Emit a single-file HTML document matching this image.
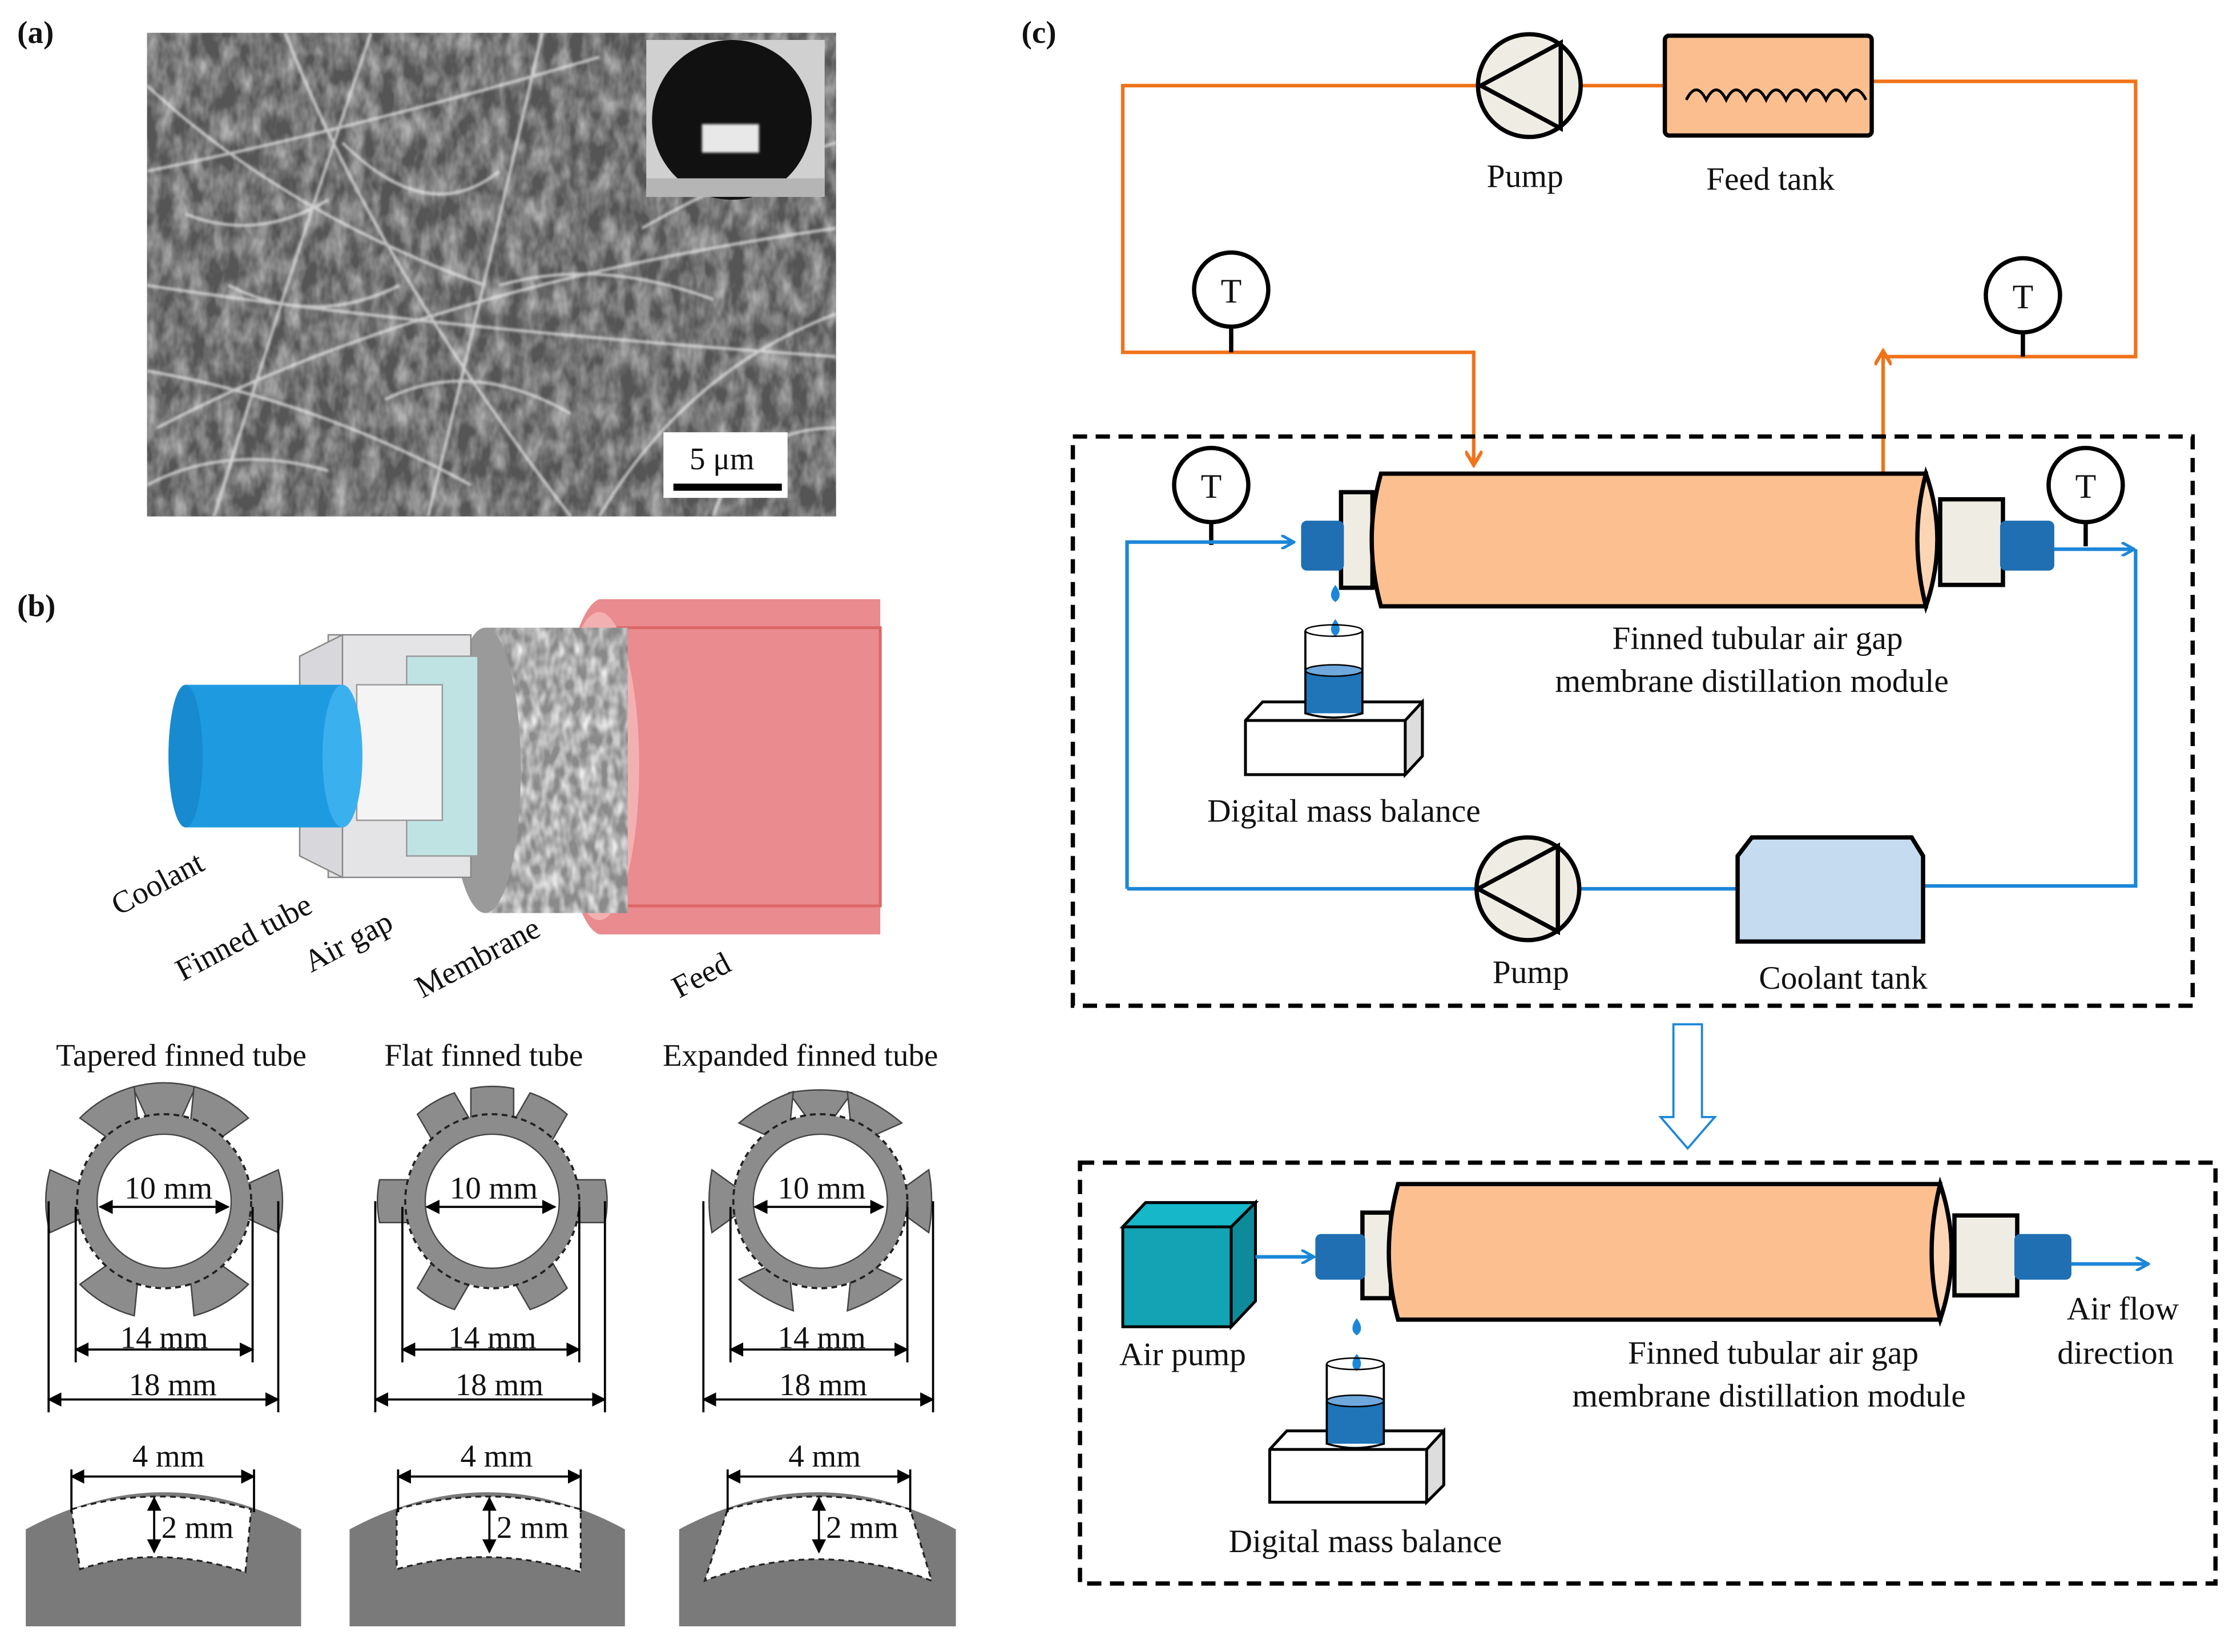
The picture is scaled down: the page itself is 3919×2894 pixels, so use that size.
<!DOCTYPE html>
<html><head><meta charset="utf-8"><style>
html,body{margin:0;padding:0;background:#fff}
svg{display:block}
text{font-family:"Liberation Serif",serif;fill:#111}
</style></head><body>
<svg width="3919" height="2894" viewBox="0 0 1568 1158" xmlns="http://www.w3.org/2000/svg">
<defs>
<filter id="sem" x="0" y="0" width="100%" height="100%">
<feTurbulence type="fractalNoise" baseFrequency="0.09 0.05" numOctaves="3" seed="4"/>
<feColorMatrix type="matrix" values="0 0 0 0 1  0 0 0 0 1  0 0 0 0 1  1.8 0 0 0 -0.55"/>
<feComposite in2="SourceGraphic" operator="in"/>
</filter>
<filter id="mem" x="0" y="0" width="100%" height="100%">
<feTurbulence type="fractalNoise" baseFrequency="0.15 0.08" numOctaves="2" seed="7"/>
<feColorMatrix type="matrix" values="0 0 0 0 1  0 0 0 0 1  0 0 0 0 1  1.6 0 0 0 -0.5"/>
<feComposite in2="SourceGraphic" operator="in"/>
</filter>
<filter id="bl"><feGaussianBlur stdDeviation="0.8"/></filter>
<marker id="ab" markerWidth="10" markerHeight="10" refX="8" refY="5" orient="auto" markerUnits="userSpaceOnUse"><path d="M0,0 L9,5 L0,10" fill="none" stroke="#1b87d9" stroke-width="2"/></marker>
<marker id="ao" markerWidth="12" markerHeight="12" refX="9" refY="6" orient="auto" markerUnits="userSpaceOnUse"><path d="M0,0 L10,6 L0,12" fill="none" stroke="#f0731a" stroke-width="2.5"/></marker>
<marker id="ak" markerWidth="10" markerHeight="10" refX="9" refY="5" orient="auto" markerUnits="userSpaceOnUse"><path d="M0,0 L10,5 L0,10 Z" fill="#000"/></marker>
<marker id="aks" markerWidth="10" markerHeight="10" refX="1" refY="5" orient="auto" markerUnits="userSpaceOnUse"><path d="M10,0 L0,5 L10,10 Z" fill="#000"/></marker>
</defs>

<text x="12" y="30" font-size="22" font-weight="bold">(a)</text>
<text x="12" y="432" font-size="22" font-weight="bold">(b)</text>
<text x="716" y="30" font-size="22" font-weight="bold">(c)</text>

<!-- (a) SEM -->
<rect x="103" y="23" width="483" height="339" fill="#555"/>
<rect x="103" y="23" width="483" height="339" fill="#fff" filter="url(#sem)" opacity="0.55"/>
<g stroke="#eee" stroke-width="2" opacity="0.7" filter="url(#bl)" fill="none">
<path d="M103,120 Q250,90 420,40"/><path d="M110,300 Q300,200 586,160"/><path d="M150,362 Q200,200 260,23"/>
<path d="M300,362 Q330,240 380,23"/><path d="M103,200 Q300,230 586,250"/><path d="M200,23 Q260,180 400,362"/>
<path d="M103,60 Q200,150 340,200"/><path d="M420,362 Q480,260 586,220"/><path d="M103,260 Q220,280 330,340"/>
<path d="M240,100 Q300,160 350,120"/><path d="M350,200 Q420,180 500,210"/><path d="M130,150 Q180,170 230,140"/>
<path d="M450,160 Q520,120 586,100"/><path d="M270,280 Q330,250 400,290"/><path d="M160,200 Q220,230 280,200"/>
<path d="M500,362 Q520,300 586,300"/><path d="M103,340 Q160,310 230,330"/>
</g>
<rect x="453" y="28" width="125" height="110" fill="#d0d0d0"/>
<circle cx="513" cy="84" r="56" fill="#111"/>
<rect x="453" y="125" width="125" height="13" fill="#b5b5b5"/>
<rect x="492" y="87" width="40" height="20" fill="#e8e8e8" filter="url(#bl)"/>
<rect x="465" y="303" width="87" height="46" fill="#fff"/>
<text x="506" y="329" font-size="22" text-anchor="middle">5 μm</text>
<rect x="472" y="339" width="76" height="5" fill="#000"/>

<!-- (b) 3D tube -->
<path d="M420,420 L617,420 L617,655 L420,655 A30,118 0 0 1 420,420 Z" fill="#e98b8f"/>
<path d="M420,440 L617,440 L617,635 L420,635" fill="none" stroke="#d66" stroke-width="2"/>
<ellipse cx="420" cy="537" rx="28" ry="108" fill="#f3b0b0"/>
<path d="M340,440 L440,440 L440,640 L340,640 Z" fill="#8a8a8a"/>
<path d="M340,440 L440,440 L440,640 L340,640 Z" fill="#fff" filter="url(#mem)"/>
<ellipse cx="340" cy="540" rx="25" ry="100" fill="#9a9a9a"/>
<path d="M230,445 L330,445 L330,615 L230,615 Z" fill="#e4e4e6" stroke="#888"/>
<rect x="285" y="460" width="50" height="140" fill="#bfe3e3" stroke="#999"/>
<path d="M210,460 L240,445 L240,615 L210,600 Z" fill="#d8d8dc" stroke="#888"/>
<rect x="250" y="480" width="60" height="95" fill="#f4f4f4" stroke="#999"/>
<path d="M130,480 L240,480 L240,580 L130,580 Z" fill="#1e9be0"/>
<ellipse cx="130" cy="530" rx="12" ry="50" fill="#178ad0"/>
<ellipse cx="240" cy="530" rx="14" ry="50" fill="#3bb0ee"/>
<g font-size="22">
<text transform="translate(83,642) rotate(-28)">Coolant</text>
<text transform="translate(128,688) rotate(-28)">Finned tube</text>
<text transform="translate(218,682) rotate(-28)">Air gap</text>
<text transform="translate(296,700) rotate(-28)">Membrane</text>
<text transform="translate(476,700) rotate(-28)">Feed</text>
</g>

<g font-size="22" text-anchor="middle">
<text x="127" y="747">Tapered finned tube</text>
<text x="339" y="747">Flat finned tube</text>
<text x="561" y="747">Expanded finned tube</text>
</g>
<g fill="#8c8c8c" stroke="#444" stroke-width="1">
<g transform="translate(115,842)">
<g id="tf"><path d="M-12,-58 L-22,-80 Q0,-86 22,-80 L12,-58 Z"/></g>
<use href="#tf" transform="rotate(30)"/><use href="#tf" transform="rotate(-30)"/>
<use href="#tf" transform="rotate(90)"/><use href="#tf" transform="rotate(-90)"/>
<use href="#tf" transform="rotate(150)"/><use href="#tf" transform="rotate(-150)"/>
</g>
<g transform="translate(345,842)">
<g id="ff"><path d="M-15,-58 L-15,-79 Q0,-82 15,-79 L15,-58 Z"/></g>
<use href="#ff" transform="rotate(30)"/><use href="#ff" transform="rotate(-30)"/>
<use href="#ff" transform="rotate(90)"/><use href="#ff" transform="rotate(-90)"/>
<use href="#ff" transform="rotate(150)"/><use href="#ff" transform="rotate(-150)"/>
</g>
<g transform="translate(575,842)">
<g id="ef"><path d="M-9,-58 L-22,-76 Q0,-80 22,-76 L9,-58 Z"/></g>
<use href="#ef" transform="rotate(30)"/><use href="#ef" transform="rotate(-30)"/>
<use href="#ef" transform="rotate(90)"/><use href="#ef" transform="rotate(-90)"/>
<use href="#ef" transform="rotate(150)"/><use href="#ef" transform="rotate(-150)"/>
</g>
</g>
<g>
<circle cx="115" cy="842" r="54" fill="none" stroke="#8c8c8c" stroke-width="13"/>
<circle cx="345" cy="842" r="54" fill="none" stroke="#8c8c8c" stroke-width="13"/>
<circle cx="575" cy="842" r="54" fill="none" stroke="#8c8c8c" stroke-width="13"/>
<g fill="none" stroke="#222" stroke-width="1.5" stroke-dasharray="4,3">
<circle cx="115" cy="842" r="61"/><circle cx="345" cy="842" r="61"/><circle cx="575" cy="842" r="61"/>
</g>
<g fill="none" stroke="#444" stroke-width="1">
<circle cx="115" cy="842" r="47"/><circle cx="345" cy="842" r="47"/><circle cx="575" cy="842" r="47"/>
</g>
</g>
<g stroke="#000" stroke-width="1.5">
<g id="dims">
<line x1="70" y1="846" x2="160" y2="846" marker-end="url(#ak)" marker-start="url(#aks)"/>
<line x1="53" y1="846" x2="53" y2="955"/><line x1="177" y1="846" x2="177" y2="955"/>
<line x1="53" y1="946" x2="177" y2="946" marker-end="url(#ak)" marker-start="url(#aks)"/>
<line x1="34" y1="842" x2="34" y2="990"/><line x1="195" y1="842" x2="195" y2="990"/>
<line x1="34" y1="981" x2="195" y2="981" marker-end="url(#ak)" marker-start="url(#aks)"/>
</g>
<use href="#dims" transform="translate(229,0)"/>
<use href="#dims" transform="translate(459,0)"/>
</g>
<g font-size="22" text-anchor="middle">
<text x="118" y="840">10 mm</text><text x="346" y="840">10 mm</text><text x="576" y="840">10 mm</text>
<text x="115" y="945">14 mm</text><text x="345" y="945">14 mm</text><text x="576" y="945">14 mm</text>
<text x="121" y="978">18 mm</text><text x="350" y="978">18 mm</text><text x="577" y="978">18 mm</text>
<text x="118" y="1028">4 mm</text><text x="348" y="1028">4 mm</text><text x="578" y="1028">4 mm</text>
</g>
<g>
<path d="M18,1072 Q115,1020 211,1072 L211,1140 L18,1140 Z" fill="#7a7a7a"/>
<path d="M50,1058 Q110,1040 176,1058 L172,1102 Q110,1082 56,1100 Z" fill="#fff" stroke="#222" stroke-width="1.3" stroke-dasharray="4,3"/>
<path d="M245,1072 Q342,1020 438,1072 L438,1140 L245,1140 Z" fill="#7a7a7a"/>
<path d="M278,1058 Q342,1040 407,1058 L407,1102 Q342,1082 278,1100 Z" fill="#fff" stroke="#222" stroke-width="1.3" stroke-dasharray="4,3"/>
<path d="M476,1072 Q573,1020 670,1072 L670,1140 L476,1140 Z" fill="#7a7a7a"/>
<path d="M510,1058 Q573,1040 638,1058 L653,1108 Q573,1078 494,1108 Z" fill="#fff" stroke="#222" stroke-width="1.3" stroke-dasharray="4,3"/>
</g>
<g stroke="#000" stroke-width="1.5">
<line x1="50" y1="1030" x2="50" y2="1060"/><line x1="178" y1="1030" x2="178" y2="1060"/>
<line x1="50" y1="1035" x2="178" y2="1035" marker-end="url(#ak)" marker-start="url(#aks)"/>
<line x1="108" y1="1050" x2="108" y2="1088" marker-end="url(#ak)" marker-start="url(#aks)"/>
<line x1="279" y1="1030" x2="279" y2="1060"/><line x1="407" y1="1030" x2="407" y2="1060"/>
<line x1="279" y1="1035" x2="407" y2="1035" marker-end="url(#ak)" marker-start="url(#aks)"/>
<line x1="343" y1="1050" x2="343" y2="1088" marker-end="url(#ak)" marker-start="url(#aks)"/>
<line x1="510" y1="1030" x2="510" y2="1060"/><line x1="638" y1="1030" x2="638" y2="1060"/>
<line x1="510" y1="1035" x2="638" y2="1035" marker-end="url(#ak)" marker-start="url(#aks)"/>
<line x1="574" y1="1050" x2="574" y2="1088" marker-end="url(#ak)" marker-start="url(#aks)"/>
</g>
<g font-size="22">
<text x="113" y="1078">2 mm</text><text x="348" y="1078">2 mm</text><text x="579" y="1078">2 mm</text>
</g>

<!-- (c) orange loop -->
<g fill="none" stroke="#f0731a" stroke-width="2.5">
<polyline points="1036,60 787,60 787,247 1033,247 1033,325" marker-end="url(#ao)"/>
<line x1="1108" y1="60" x2="1167" y2="60"/>
<polyline points="1312,57 1497,57 1497,250 1320,250"/>
<line x1="1320" y1="332" x2="1320" y2="247" marker-end="url(#ao)"/>
</g>
<g stroke="#000" stroke-width="3">
<circle cx="1072" cy="60" r="36" fill="#efede3"/>
<path d="M1038,60 L1094,30 L1094,90 Z" fill="none"/>
<rect x="1167" y="25" width="145" height="70" fill="#fbbf8f" rx="3"/>
</g>
<path d="M1182,70 q7,-14 14,0 q7,-14 14,0 q7,-14 14,0 q7,-14 14,0 q7,-14 14,0 q7,-14 14,0 q7,-14 14,0 q7,-14 14,0 q7,-14 14,0" fill="none" stroke="#000" stroke-width="2"/>
<text x="1069" y="131" font-size="23" text-anchor="middle">Pump</text>
<text x="1241" y="133" font-size="23" text-anchor="middle">Feed tank</text>
<g stroke="#000" stroke-width="3" fill="#fff">
<line x1="863" y1="229" x2="863" y2="247"/><circle cx="863" cy="203" r="26"/>
<line x1="1418" y1="233" x2="1418" y2="250"/><circle cx="1418" cy="207" r="26"/>
<line x1="849" y1="366" x2="849" y2="382"/><circle cx="849" cy="340" r="26"/>
<line x1="1462" y1="366" x2="1462" y2="383"/><circle cx="1462" cy="340" r="26"/>
</g>
<g font-size="24" text-anchor="middle">
<text x="863" y="212">T</text><text x="1418" y="216">T</text><text x="849" y="349">T</text><text x="1462" y="349">T</text>
</g>

<rect x="752" y="306" width="785" height="399" fill="none" stroke="#000" stroke-width="3" stroke-dasharray="10,6"/>
<g fill="none" stroke="#1b87d9" stroke-width="2.5">
<polyline points="790,623 790,380 906,380" marker-end="url(#ab)"/>
<polyline points="790,623 1035,623"/>
<line x1="1107" y1="623" x2="1218" y2="623"/>
<polyline points="1348,621 1497,621 1497,385"/>
<line x1="1440" y1="385" x2="1495" y2="385" marker-end="url(#ab)"/>
</g>
<g stroke="#000" stroke-width="3">
<rect x="940" y="345" width="22" height="67" fill="#efede3"/>
<rect x="1360" y="350" width="44" height="60" fill="#efede3"/>
<path d="M968,332 L1350,332 L1350,425 L968,425 Q955,378 968,332 Z" fill="#fcbf8f"/>
<path d="M1350,332 Q1366,378 1350,425 Q1338,378 1350,332 Z" fill="#fcd5b4"/>
</g>
<rect x="912" y="365" width="30" height="35" fill="#1f6fb2" rx="4"/>
<rect x="1402" y="365" width="38" height="35" fill="#1f6fb2" rx="4"/>
<path d="M936,410 q-6,8 0,12 q6,-4 0,-12 Z" fill="#1b87d9"/>
<path d="M936,434 q-6,8 0,12 q6,-4 0,-12 Z" fill="#1b87d9"/>
<path d="M873,505 L885,492 L997,492 L997,530 L985,543 L873,543 Z" fill="#fff" stroke="#000" stroke-width="2"/>
<path d="M985,505 L997,492 L997,530 L985,543 Z" fill="#ddd" stroke="#000" stroke-width="2"/>
<line x1="873" y1="505" x2="985" y2="505" stroke="#000" stroke-width="2"/>
<rect x="915" y="470" width="40" height="30" fill="#1f75b8"/>
<ellipse cx="935" cy="470" rx="20" ry="4" fill="#6fa8dc" stroke="#000"/>
<path d="M915,442 L915,500 Q935,506 955,500 L955,442" fill="none" stroke="#000" stroke-width="1.5"/>
<ellipse cx="935" cy="442" rx="20" ry="4" fill="none" stroke="#000"/>
<g font-size="23" text-anchor="middle">
<text x="1232" y="455">Finned tubular air gap</text>
<text x="1228" y="485">membrane distillation module</text>
<text x="942" y="576">Digital mass balance</text>
<text x="1073" y="689">Pump</text>
<text x="1292" y="693">Coolant tank</text>
</g>
<g stroke="#000" stroke-width="3">
<circle cx="1071" cy="623" r="36" fill="#efede3"/>
<path d="M1036,623 L1092,593 L1092,653 Z" fill="none"/>
<path d="M1218,600 L1228,587 L1340,587 L1348,600 L1348,660 L1218,660 Z" fill="#c5dbf0"/>
</g>

<path d="M1173,718 L1193,718 L1193,783 L1202,783 L1183,805 L1164,783 L1173,783 Z" fill="#fff" stroke="#1b87d9" stroke-width="1.5"/>

<rect x="757" y="815" width="796" height="295" fill="none" stroke="#000" stroke-width="3" stroke-dasharray="10,6"/>
<g stroke="#000" stroke-width="2">
<path d="M787,860 L803,843 L880,843 L880,912 L863,930 L787,930 Z" fill="#13a3b5"/>
<path d="M787,860 L803,843 L880,843 L863,860 Z" fill="#16b7c9"/>
<path d="M863,860 L880,843 L880,912 L863,930 Z" fill="#0e8b9b"/>
<line x1="863" y1="860" x2="863" y2="930"/>
</g>
<g fill="none" stroke="#1b87d9" stroke-width="2.5">
<line x1="880" y1="881" x2="920" y2="881" marker-end="url(#ab)"/>
<line x1="1452" y1="886" x2="1505" y2="886" marker-end="url(#ab)"/>
</g>
<g stroke="#000" stroke-width="3">
<rect x="955" y="850" width="20" height="60" fill="#efede3"/>
<rect x="1370" y="852" width="44" height="56" fill="#efede3"/>
<path d="M980,830 L1360,830 L1360,925 L980,925 Q967,878 980,830 Z" fill="#fcbf8f"/>
<path d="M1360,830 Q1376,878 1360,925 Q1348,878 1360,830 Z" fill="#fcd5b4"/>
</g>
<rect x="922" y="865" width="35" height="32" fill="#1f6fb2" rx="4"/>
<rect x="1412" y="865" width="40" height="32" fill="#1f6fb2" rx="4"/>
<path d="M951,924 q-6,8 0,12 q6,-4 0,-12 Z" fill="#1b87d9"/>
<path d="M951,949 q-6,8 0,12 q6,-4 0,-12 Z" fill="#1b87d9"/>
<path d="M890,1016 L902,1003 L1012,1003 L1012,1041 L1000,1053 L890,1053 Z" fill="#fff" stroke="#000" stroke-width="2"/>
<path d="M1000,1016 L1012,1003 L1012,1041 L1000,1053 Z" fill="#ddd" stroke="#000" stroke-width="2"/>
<line x1="890" y1="1016" x2="1000" y2="1016" stroke="#000" stroke-width="2"/>
<rect x="930" y="982" width="40" height="30" fill="#1f75b8"/>
<ellipse cx="950" cy="982" rx="20" ry="4" fill="#6fa8dc" stroke="#000"/>
<path d="M930,956 L930,1012 Q950,1018 970,1012 L970,956" fill="none" stroke="#000" stroke-width="1.5"/>
<ellipse cx="950" cy="956" rx="20" ry="4" fill="none" stroke="#000"/>
<g font-size="23" text-anchor="middle">
<text x="829" y="957">Air pump</text>
<text x="1488" y="925">Air flow</text>
<text x="1483" y="956">direction</text>
<text x="1243" y="956">Finned tubular air gap</text>
<text x="1240" y="986">membrane distillation module</text>
<text x="957" y="1088">Digital mass balance</text>
</g>
</svg>
</body></html>
